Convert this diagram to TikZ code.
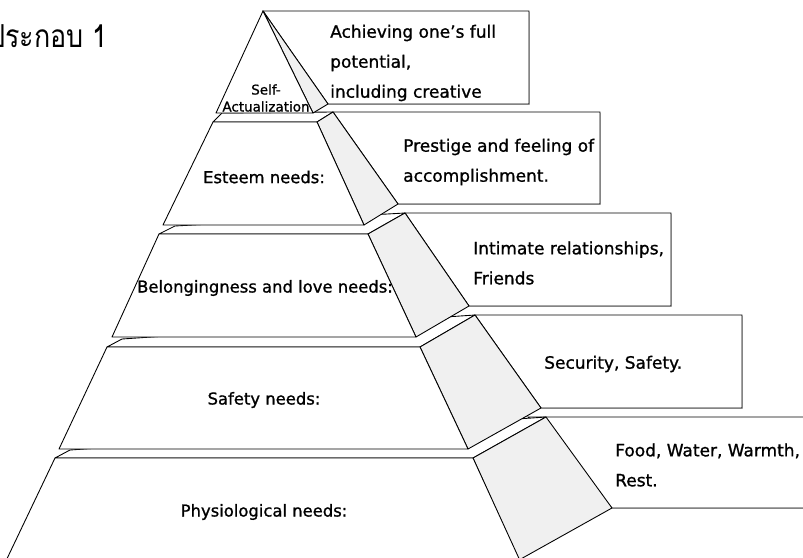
\documentclass[tikz,border=0pt]{standalone}
\usepackage{fontspec}
\setmainfont{DejaVu Sans}[FakeBold=1]
\newfontfamily\thaifont[Script=Thai, FakeStretch=0.85]{Loma}
\usetikzlibrary{shadows}

\tikzset{
  front/.style={draw, line width=.75pt, fill=white, line join=round},
  side/.style={draw, line width=.75pt, fill=black!6, line join=round},
  topface/.style={draw, line width=.75pt, fill=white, line join=round},
  callout/.style={draw, line width=.75pt, fill=white, drop shadow={shadow xshift=.8pt, shadow yshift=-.8pt, opacity=.45}},
  lvl/.style={inner sep=0pt, font=\fontsize{14}{16}\selectfont},
  note/.style={anchor=west, align=left, inner sep=0pt, font=\fontsize{14.5}{25.6}\selectfont}
}

\begin{document}
\begin{tikzpicture}[x=.03cm, y=-.03cm]
\useasboundingbox (0,0) rectangle (803,558);
\node[anchor=base east, inner sep=0pt, font=\thaifont\fontsize{27}{30}\selectfont] (fig) at (108,47) {ประกอบ 1};

% boxes behind the pyramid
\draw[callout] (263,11) -- (529,11) -- (529,104) -- (328,104) -- cycle;
\draw[callout] (333,112) -- (600,112) -- (600,204) -- (398,204) -- cycle;
\draw[callout] (405,213) -- (671,213) -- (671,306) -- (469,306) -- cycle;
\draw[callout] (475,315) -- (742,315) -- (742,408) -- (541,408) -- cycle;
\draw[callout] (528,417) -- (815,417) -- (815,508) -- (612,508) -- cycle;

% level 5
\draw[topface] (55,458) -- (70,450) -- (546,417) -- (473,458) -- cycle;
\draw[side] (473,458) -- (546,417) -- (612,508) -- (519,560) -- cycle;
\draw[front] (55,458) -- (473,458) -- (522,565) -- (4,565) -- cycle;

% level 4
\draw[topface] (107,347) -- (122,339) -- (475,315) -- (420,347) -- cycle;
\draw[side] (420,347) -- (475,315) -- (541,408) -- (468,449) -- cycle;
\draw[front] (107,347) -- (420,347) -- (468,449) -- (59,449) -- cycle;

% level 3
\draw[topface] (159,234) -- (175,226) -- (405,213) -- (368,234) -- cycle;
\draw[side] (368,234) -- (405,213) -- (469,306) -- (416,337) -- cycle;
\draw[front] (159,234) -- (368,234) -- (416,337) -- (112,337) -- cycle;

% level 2
\draw[topface] (213,122) -- (222,113) -- (333,112) -- (317,122) -- cycle;
\draw[side] (317,122) -- (333,112) -- (398,204) -- (364,225) -- cycle;
\draw[front] (213,122) -- (317,122) -- (364,225) -- (163,225) -- cycle;

% level 1
\draw[side] (263,11) -- (328,104) -- (313,113) -- cycle;
\draw[front] (263,11) -- (313,113) -- (216,113) -- cycle;

\node[lvl, align=center, font=\fontsize{11.5}{14.5}\selectfont] (self) at (266,98) {Self-\\Actualization};
\node[lvl] (esteem) at (264,177) {Esteem needs:};
\node[lvl] (belong) at (265,288) {Belongingness and love needs:};
\node[lvl] (safety) at (264,400) {Safety needs:};
\node[lvl] (physio) at (264,512) {Physiological needs:};

\begin{scope}
\clip (263,11) -- (529,11) -- (529,104) -- (328,104) -- cycle;
\node[note] (n1) at (330,63) {Achieving one's full\\potential,\\including creative};
\end{scope}
\node[note] (n2) at (403,162) {Prestige and feeling of\\accomplishment.};
\node[note] (n3) at (473,263) {Intimate relationships,\\Friends};
\node[note] (n4) at (544,364) {Security, Safety.};
\node[note] (n5) at (615,465) {Food, Water, Warmth,\\Rest.};
\end{tikzpicture}
\end{document}
